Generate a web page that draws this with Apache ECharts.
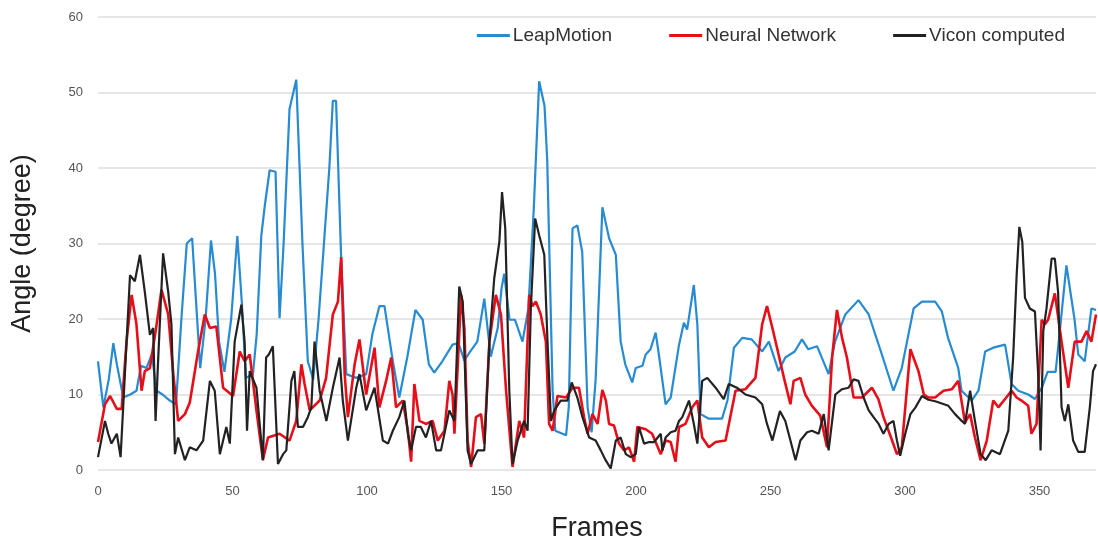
<!DOCTYPE html>
<html>
<head>
<meta charset="utf-8">
<script src="https://cdn.jsdelivr.net/npm/echarts@6/dist/echarts.min.js"></script>
<style>
html,body{margin:0;padding:0;background:#fff;}
#chart{width:1098px;height:547px;}
</style>
</head>
<body>
<div id="chart"></div>
<script>
const seriesNames = ['LeapMotion', 'Neural Network', 'Vicon computed'];
const xTicks = [0, 50, 100, 150, 200, 250, 300, 350];
const yTicks = [0, 10, 20, 30, 40, 50, 60];

const leapMotion = [[0,14.4],[2,8.3],[4,12],[5.7,16.8],[7,14],[9.4,9.6],[12,10],[14.3,10.5],[16,13.8],[18,13.5],[20,15.3],[21.8,10.5],[24,10],[26.7,9.2],[29,8.7],[31,20],[33,30],[35,30.7],[36.5,22],[38,13.5],[40,20],[42,30.4],[43.5,26],[45,17],[47,13],[49.5,20],[51.8,31],[53.5,22],[55,12.2],[57.6,12.7],[59,18],[60.7,31],[62,35],[63.8,39.7],[66,39.5],[67.5,20.1],[69,30],[71.2,47.8],[73.7,51.7],[76,30],[78,14.4],[80,12],[82,20],[84,30],[86,40],[87.3,48.9],[88.5,48.9],[90.4,28],[92.3,12.7],[96,12.2],[99.7,12.7],[102,18],[104.6,21.7],[106.5,21.7],[109.6,14.4],[112,9.6],[115,15],[118,21.2],[120.7,19.9],[123,14],[125,12.9],[128,14.4],[131.8,16.6],[134,16.8],[136.2,14.5],[138,15.5],[141,17],[143.6,22.7],[146,15],[148.6,18.8],[150,24],[151,26],[153,19.9],[155,19.9],[157.8,17],[160,21.4],[162,34.6],[164,51.5],[166,48.2],[167,41],[169,10.5],[170,5.2],[174,4.6],[175,8.3],[176.4,32],[178.2,32.4],[180,28.9],[182,8.3],[183.5,5],[185,12],[187.5,34.8],[190,30.7],[192.5,28.5],[194.3,17],[196,14],[198.6,11.6],[199.9,13.5],[202.4,13.8],[203.6,15.3],[205.4,16],[207.3,18.2],[208.5,15.3],[211,8.7],[212.9,9.6],[216,16.6],[217.8,19.5],[219,18.6],[221.5,24.5],[222.8,19.3],[224,7.4],[227.1,6.8],[232,6.8],[234,9.2],[236.4,16.2],[239.5,17.5],[243,17.3],[246.9,15.7],[249.4,17],[253,13.1],[255.5,14.9],[259,15.7],[261.7,17.3],[264,16],[267.3,16.4],[271.6,12.7],[274,17],[277.8,20.6],[282.7,22.5],[286.5,20.6],[291.4,15.3],[295.7,10.5],[298.8,13.5],[303.2,21.4],[306.3,22.3],[311.2,22.3],[313.7,21],[316,17.5],[319.8,13.5],[321,10.5],[324.8,9.2],[327.3,10.5],[329.8,15.7],[332.8,16.2],[337.2,16.6],[339.6,11.4],[342.1,10.5],[345.8,10],[348.3,9.4],[351,11],[353,13],[356,13],[358,20],[360,27.1],[363,20],[364.4,15.3],[366.8,14.4],[369.3,21.4],[371,21.2]];

const neuralNetwork = [[0,3.7],[2.6,8.7],[4.5,9.8],[7,8.1],[8.8,8.1],[10.6,17],[12.5,23.2],[14.3,19.3],[16.2,10.5],[17.4,13.1],[19.3,13.5],[21.8,19.3],[23.6,23.9],[26.1,20.6],[28,12.7],[29.8,6.5],[32.3,7.4],[34.1,8.9],[37.2,15.7],[39.7,20.6],[41.6,18.8],[44,19],[46.5,10.9],[50.2,9.8],[52.7,15.7],[54.5,14.4],[56.4,15.3],[58.9,7.9],[61.3,1.3],[63.2,4.3],[67.5,4.8],[71.2,3.9],[73.7,6.5],[75.6,14],[76.8,11.4],[78.7,7.9],[82.4,9.2],[84.8,12.2],[87.3,20.6],[89.2,22.3],[90.4,28.2],[91.7,12.7],[92.9,7],[95.4,14],[97.2,17.3],[99.7,10],[102.8,16.2],[104.6,8.3],[107.1,11.8],[109,14.9],[110.8,8.3],[113.3,9.2],[115.2,5.2],[116.4,1.1],[117.6,11.4],[119.5,6.5],[121.9,6.1],[124.4,6.5],[126.3,3.9],[128.8,5.2],[130.6,11.8],[131.8,10],[132.5,4.8],[135,23.2],[136.2,18.8],[137.4,3.9],[138.7,0.4],[140.5,7],[142.4,7.4],[143.6,3.5],[145.5,17],[147.9,23.2],[149.8,20.6],[151.7,10.5],[154.1,0.4],[156.6,6.5],[158.4,4.3],[160.3,23.2],[161.5,21.7],[162.8,22.3],[164.6,20.6],[166.5,17],[167.7,6.1],[169,5.2],[170.8,9.8],[174,9.6],[176.4,10.9],[178.8,10.9],[180.7,7],[182,4.8],[183.8,7.4],[185.7,6.1],[187.5,10.6],[188.8,9.2],[190,6.1],[191.8,5.9],[193.7,3.5],[195.5,2.6],[197.4,3],[199.3,1.1],[200.5,5.7],[203.6,5.4],[206,4.8],[209.2,2.1],[211,3.9],[212.9,3.7],[214.7,1.1],[216,5.7],[218.4,6.1],[220.9,8.3],[222.8,9.2],[224.6,4.3],[227.1,3],[229.6,3.7],[233.3,3.9],[237,10.5],[240.7,10.7],[244.4,12.2],[246.9,19.3],[248.7,21.7],[250.7,18.8],[253,15.3],[255,12.2],[257.4,8.7],[258.6,11.8],[261.1,12.2],[262.9,10],[265.4,8.5],[268.5,7.2],[271,3],[272.9,14.9],[274.7,21.2],[276.6,17.5],[278.4,14.9],[280.9,9.6],[284,9.6],[287.7,10.9],[290.1,9.4],[292,7],[294.5,4.6],[297,2.1],[298.8,3],[302,16],[305,13.1],[307,10],[308.7,9.6],[311.2,9.6],[314.3,10.5],[317.4,10.7],[319.8,11.8],[322.3,6.3],[324.2,7.4],[326,4.3],[328.1,1.3],[330.4,3.9],[332.8,9.2],[334.7,8.3],[337.2,9.4],[339.6,10.5],[341.5,9.6],[343.3,9.2],[345.8,8.5],[347,4.8],[348.9,6.1],[350.8,19.9],[352,19.3],[353.2,19.9],[355.7,23.4],[358.2,17],[360.7,10.9],[363.1,17],[365.6,17],[367.5,18.4],[369.3,17],[371,20.6]];

const viconComputed = [[0,1.7],[2.6,6.5],[3.8,4.8],[5,3.5],[7,4.8],[8.4,1.7],[10,12.7],[11.9,25.8],[13.7,25],[15.6,28.5],[17.4,23.6],[19.3,17.9],[20.5,18.8],[21.4,6.5],[22.4,14.9],[24.2,28.7],[26.1,23.6],[27.3,19.3],[28.6,2.1],[29.8,4.3],[32.3,1.3],[34.1,3],[36.6,2.6],[39.1,3.9],[41.6,11.8],[43.4,10.5],[45.3,2.1],[47.7,5.7],[49,3.5],[50.8,17],[53.3,21.9],[54.5,17],[55.4,5.2],[56.4,13.1],[58.9,10.9],[61.3,1.3],[62.5,14.9],[63.5,15.3],[65,16.4],[66.9,0.8],[68.8,2.1],[70,2.6],[71.9,11.8],[73,13.1],[74.3,5.7],[76.2,5.7],[78,7],[79.3,8.3],[80.5,17],[82.4,10.5],[84.9,6.5],[87.3,10.9],[89.8,14.9],[91,9.2],[92.9,3.9],[96,10.9],[97.2,12.7],[99.7,7.9],[102.8,10.9],[105.9,3.9],[107.8,3.5],[109.6,5.2],[112,7],[113.9,9.2],[115.2,4.8],[116.4,2.6],[118.2,5.7],[120,5.7],[121.9,4.3],[123.8,6.5],[125.7,2.6],[127.5,2.6],[130.6,7.9],[132.5,6.5],[134.3,24.3],[135.6,22.3],[137.4,2.6],[138.7,0.8],[141.1,2.6],[143.6,2.6],[145.5,17],[147.3,25.4],[149.2,30.2],[150.2,36.8],[151.4,32],[152.9,10.5],[154.1,0.8],[156,3.9],[158.4,6.5],[159.7,5.2],[160.9,21.4],[162.5,33.3],[164,31.1],[165.9,28.5],[167.1,17],[168.4,6.5],[169.6,7.9],[172,9.2],[174.5,9.2],[176.1,11.6],[178.2,9.6],[180.1,7],[182.6,4.3],[185,3.9],[186.9,2.6],[188.7,1.3],[190.6,0.2],[192.5,3.9],[194.3,4.3],[196.2,2.1],[198,1.7],[199.9,2.1],[201.1,5.7],[203,3.5],[204.9,3.7],[206.7,3.7],[209.2,4.8],[209.8,2.6],[211,4.3],[212.9,5],[214.7,5.2],[216,6.5],[217.2,7],[219.7,9.2],[221.5,6.1],[222.8,3.5],[224.6,11.8],[226.5,12.2],[229.6,10.9],[232.6,9.4],[234.5,11.4],[237.5,10.9],[240.7,10],[244.4,9.6],[246.9,8.7],[248.7,6.1],[250.7,3.9],[253.5,7.8],[255.5,6.5],[257.4,3.9],[259.3,1.3],[261.1,3.9],[263.6,5],[265.4,5.2],[267.9,4.8],[269.8,7.4],[271.6,2.6],[274.1,10],[276.6,10.7],[279,10.9],[280.9,12],[282.7,11.8],[284.6,9.6],[286.5,7.9],[288.3,7],[290.2,6.1],[292,4.8],[293.9,6.1],[295.7,6.5],[297,3.9],[298.2,1.9],[300.1,4.8],[302,7.4],[303.9,8.3],[306.3,9.8],[308.7,9.3],[311.2,9.1],[313.7,8.8],[316.1,8.5],[318.6,7.4],[321.1,6.5],[322.3,6.1],[324.2,10.5],[326,6.5],[328.1,2.1],[330,1.3],[332.2,2.6],[335.3,2.1],[338.4,5.2],[340.2,14.9],[341.5,25.8],[342.5,32.2],[343.6,30.2],[344.6,22.8],[346.4,21.4],[348.3,21],[349.5,12.7],[350.4,2.6],[351.4,18.4],[352.6,21.4],[354.5,28],[355.7,28],[356.9,23.6],[358.2,8.3],[359.4,6.5],[360.7,8.7],[362.5,3.9],[364.4,2.4],[366.8,2.4],[368.7,8.3],[369.9,13.1],[371,14]];

const colors = ['#268bd2', '#e60f19', '#222222'];
const font = 'Liberation Sans, Arial, Helvetica, sans-serif';

const chart = echarts.init(document.getElementById('chart'));
chart.setOption({
  animation: false,
  color: colors,
  grid: { left: 98, right: 2, top: 17, bottom: 74, containLabel: false },
  legend: {
    data: seriesNames,
    top: 21,
    right: 28,
    itemGap: 57,
    itemWidth: 33,
    itemHeight: 3,
    icon: 'rect',
    textStyle: { fontSize: 19, color: '#333', fontFamily: font, padding: [0,0,0,-2] }
  },
  xAxis: {
    type: 'value',
    min: 0,
    max: 371,
    interval: 50,
    name: 'Frames',
    nameLocation: 'middle',
    nameGap: 45,
    nameTextStyle: { fontSize: 27, color: '#222', fontFamily: font },
    axisLine: { show: false },
    axisTick: { show: false },
    splitLine: { show: false },
    axisLabel: {
      margin: 15, fontSize: 13, color: '#555', fontFamily: font, showMaxLabel: false,
      formatter: v => xTicks.includes(v) ? String(v) : ''
    }
  },
  yAxis: {
    type: 'value',
    min: 0,
    max: 60,
    interval: 10,
    name: 'Angle (degree)',
    nameLocation: 'middle',
    nameGap: 62,
    nameTextStyle: { fontSize: 27, color: '#222', fontFamily: font },
    axisLine: { show: false },
    axisTick: { show: false },
    splitLine: { show: true, lineStyle: { color: '#e6e6e6', width: 2 } },
    axisLabel: {
      margin: 15, fontSize: 13, color: '#555', fontFamily: font,
      formatter: v => yTicks.includes(v) ? String(v) : ''
    }
  },
  series: [
    { name: seriesNames[0], type: 'line', data: leapMotion, showSymbol: false, lineStyle: { width: 2.2 } },
    { name: seriesNames[1], type: 'line', data: neuralNetwork, showSymbol: false, lineStyle: { width: 2.6 } },
    { name: seriesNames[2], type: 'line', data: viconComputed, showSymbol: false, lineStyle: { width: 2.2 } }
  ]
});
</script>
</body>
</html>
